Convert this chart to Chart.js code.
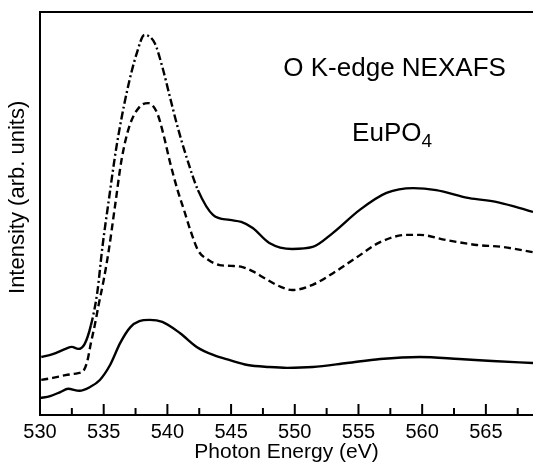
<!DOCTYPE html>
<html>
<head>
<meta charset="utf-8">
<script src="https://cdn.jsdelivr.net/npm/chart.js@4/dist/chart.umd.min.js"></script>
<style>
  html, body { margin:0; padding:0; background:#fff; }
</style>
</head>
<body>
<canvas id="chart" width="533" height="464"></canvas>
<script>
// Data (photon energy in eV, intensity in arb. units 0-100)
const topEnergy = [530.1, 531.0, 532.0, 532.5, 533.0, 533.5, 534.0, 534.5, 534.9, 535.4, 536.0, 536.8, 537.6, 538.2, 539.0, 539.6, 540.2, 540.8, 541.5, 542.4, 543.6, 544.9, 545.8, 546.7, 548.0, 549.8, 551.4, 553.0, 555.1, 557.2, 559.3, 561.1, 563.7, 565.8, 567.6, 568.7];
const topIntensity = [14.4, 15.1, 16.4, 16.9, 16.4, 17.6, 22.3, 30.5, 41.7, 53.3, 66.5, 79.9, 89.8, 94.3, 92.3, 86.4, 78.9, 71.5, 64.0, 55.8, 49.6, 48.4, 47.9, 46.4, 42.7, 41.2, 41.7, 45.2, 50.9, 55.1, 56.3, 55.8, 53.8, 52.9, 51.4, 50.4];

const midEnergy = [530.1, 531.0, 532.0, 533.0, 533.4, 533.7, 534.0, 534.3, 534.6, 535.0, 535.4, 535.9, 536.4, 537.0, 537.8, 538.5, 539.2, 539.7, 540.2, 540.8, 541.3, 541.8, 542.4, 543.2, 544.1, 545.0, 545.9, 546.8, 547.6, 548.9, 549.8, 551.4, 553.0, 554.9, 556.7, 558.8, 559.8, 561.9, 564.3, 566.3, 568.7];
const midIntensity = [8.7, 9.2, 9.9, 10.4, 10.9, 13.2, 17.9, 22.3, 27.3, 33.5, 40.9, 52.1, 63.3, 71.5, 76.4, 77.4, 74.9, 69.5, 62.8, 55.8, 50.9, 45.9, 40.9, 38.5, 37.2, 37.0, 36.7, 35.5, 34.0, 31.8, 31.0, 32.3, 35.2, 39.2, 42.9, 44.7, 44.7, 43.4, 42.2, 41.7, 40.4];

const lowEnergy = [530.0, 530.8, 531.6, 532.2, 533.1, 533.9, 534.7, 535.5, 536.3, 537.1, 537.8, 538.6, 539.6, 541.0, 542.3, 543.6, 544.9, 546.3, 548.0, 549.4, 551.4, 554.1, 556.7, 559.8, 562.9, 565.5, 568.7];
const lowIntensity = [4.2, 4.7, 5.7, 6.5, 6.0, 6.9, 8.7, 12.4, 17.9, 21.8, 23.3, 23.6, 23.1, 20.3, 16.9, 14.9, 13.6, 12.4, 11.9, 11.7, 11.9, 12.9, 13.9, 14.4, 13.9, 13.4, 12.9];

const xMin = 530, xMax = 568.7;
const xStep = 2.5;
const FONT = '"Liberation Sans", Arial, sans-serif';

const toPoints = (xs, ys) => xs.map((x, i) => ({ x: x, y: ys[i] }));

// frame top, inward ticks, y title and the two text labels
const extras = {
  id: 'extras',
  afterDatasetsDraw(chart) {
    const { ctx, chartArea: a, scales: { x, y } } = chart;
    ctx.save();
    ctx.strokeStyle = '#000';
    ctx.lineWidth = 2;
    ctx.beginPath();
    ctx.moveTo(a.left - 1, a.top);
    ctx.lineTo(a.right, a.top);
    ctx.stroke();
    x.ticks.forEach(t => {
      const px = x.getPixelForValue(t.value);
      const len = t.value % 5 === 0 ? 11 : 7;
      ctx.beginPath();
      ctx.moveTo(px, a.bottom);
      ctx.lineTo(px, a.bottom - len);
      ctx.stroke();
    });

    ctx.fillStyle = '#000';
    // y axis title
    ctx.save();
    ctx.translate(18, y.getPixelForValue(54));
    ctx.rotate(-Math.PI / 2);
    ctx.textAlign = 'center';
    ctx.textBaseline = 'middle';
    ctx.font = '22px ' + FONT;
    ctx.fillText('Intensity (arb. units)', 0, 0);
    ctx.restore();

    ctx.textBaseline = 'alphabetic';
    ctx.font = '26px ' + FONT;
    ctx.fillText('O K-edge NEXAFS', x.getPixelForValue(549.1), y.getPixelForValue(84.1));
    const ex = x.getPixelForValue(554.5), ey = y.getPixelForValue(68.0);
    ctx.fillText('EuPO', ex, ey);
    const w = ctx.measureText('EuPO').width;
    ctx.font = '19px ' + FONT;
    ctx.fillText('4', ex + w, ey + 6);
    ctx.restore();
  }
};

new Chart(document.getElementById('chart'), {
  type: 'line',
  data: {
    datasets: [
      {
        data: toPoints(topEnergy, topIntensity),
        borderColor: '#000',
        borderWidth: 2.4,
        pointRadius: 0,
        cubicInterpolationMode: 'monotone',
        segment: {
          borderDash: c => (c.p0.parsed.x >= 533.9 && c.p0.parsed.x < 542.4) ? [8, 3, 2, 3] : undefined
        }
      },
      {
        data: toPoints(midEnergy, midIntensity),
        borderColor: '#000',
        borderWidth: 2.4,
        borderDash: [7, 4],
        pointRadius: 0,
        cubicInterpolationMode: 'monotone'
      },
      {
        data: toPoints(lowEnergy, lowIntensity),
        borderColor: '#000',
        borderWidth: 2.4,
        pointRadius: 0,
        cubicInterpolationMode: 'monotone'
      }
    ]
  },
  options: {
    responsive: false,
    animation: false,
    layout: { padding: { top: 12, left: 0, right: 0, bottom: 0 } },
    plugins: { legend: { display: false }, tooltip: { enabled: false } },
    scales: {
      x: {
        type: 'linear',
        min: xMin,
        max: xMax,
        grid: { display: false, drawTicks: false },
        border: { display: true, color: '#000', width: 2 },
        ticks: {
          stepSize: xStep,
          includeBounds: false,
          autoSkip: false,
          maxRotation: 0,
          padding: 5,
          color: '#000',
          font: { family: FONT, size: 20 },
          callback: v => (v % 5 === 0 ? String(v) : '')
        },
        title: {
          display: true,
          text: 'Photon Energy (eV)',
          color: '#000',
          font: { family: FONT, size: 21, lineHeight: 1.1 },
          padding: { top: 0, bottom: 0 }
        },
        afterFit: s => { s.height = 49; }
      },
      y: {
        min: 0,
        max: 100,
        grid: { display: false, drawTicks: false },
        border: { display: true, color: '#000', width: 2 },
        ticks: { display: false },
        title: { display: false },
        afterFit: s => { s.width = 40; }
      }
    }
  },
  plugins: [extras]
});
</script>
</body>
</html>
